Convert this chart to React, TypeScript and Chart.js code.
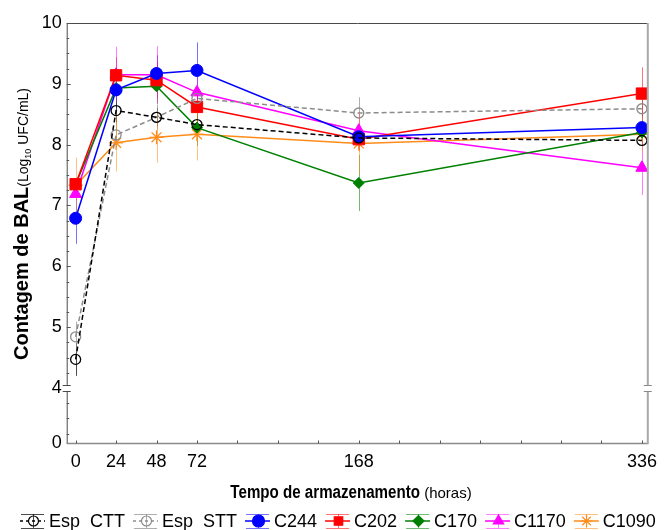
import React, { useEffect, useRef } from "react";
import { Chart, registerables } from "chart.js";
import { drawPoint } from "chart.js/helpers";

Chart.register(...registerables);

// ---------- data ----------
const hours = [0, 24, 48, 72, 168, 336];
const labeledHours = [0, 24, 48, 72, 168, 336];
const minorHourStep = 24;
const yTickValues = [4, 5, 6, 7, 8, 9, 10];
const yZeroLabel = "0";

const seriesNames = ["Esp  CTT", "Esp  STT", "C244", "C202", "C170", "C1170", "C1090"];

const espCTT = [4.47, 8.56, 8.45, 8.33, 8.11, 8.07];
const espSTT = [4.84, 8.16, 8.45, 8.76, 8.52, 8.59];
const c244 = [6.79, 8.9, 9.17, 9.22, 8.13, 8.28];
const c202 = [7.35, 9.14, 9.06, 8.62, 8.09, 8.84];
const c170 = [7.35, 8.93, 8.96, 8.28, 7.37, 8.2];
const c1170 = [7.19, 9.15, 9.15, 8.86, 8.23, 7.62];
const c1090 = [7.33, 8.03, 8.12, 8.17, 8.02, 8.17];

const espCTTErr = [0.27, 0.2, 0.15, 0.15, 0.1, 0.1];
const espSTTErr = [0.25, 0.2, 0.2, 0.2, 0.26, 0.15];
const c244Err = [0.42, 0.3, 0.3, 0.46, 0.2, 0.2];
const c202Err = [0.1, 0.3, 0.3, 0.3, 0.2, 0.43];
const c170Err = [0.1, 0.3, 0.3, 0.3, 0.46, 0.2];
const c1170Err = [0.1, 0.46, 0.47, 0.3, 0.3, 0.45];
const c1090Err = [0.46, 0.47, 0.42, 0.43, 0.5, 0.3];

const valueSets = [espCTT, espSTT, c244, c202, c170, c1170, c1090];
const errorSets = [espCTTErr, espSTTErr, c244Err, c202Err, c170Err, c1170Err, c1090Err];

// ---------- styles ----------
const colors = ["#000000", "#8c8c8c", "#0000ff", "#ff0000", "#008000", "#ff00ff", "#ff8c1a"];
const errColors = [
  "rgba(0,0,0,0.7)",
  "rgba(140,140,140,0.7)",
  "rgba(0,0,255,0.55)",
  "rgba(255,0,0,0.55)",
  "rgba(0,128,0,0.55)",
  "rgba(255,0,255,0.5)",
  "rgba(255,140,26,0.55)",
];
const dashes = [[5, 3], [5, 3], [], [], [], [], []];
const pointStyles = ["circle", "circle", "circle", "rect", "rectRot", "triangle", "star"];
const pointRadii = [5, 5, 6, 8, 5.5, 7, 7];
const pointFilled = [false, false, true, true, true, true, false];

const FONT = "'Liberation Sans', Arial, Helvetica, sans-serif";

// axis geometry (broken y axis: 0 shown below 4)
const Y_MIN = 3.087;
const Y_MAX = 10;
const X_MIN = -5.3;
const X_MAX = 339.5;

const decorPlugin = {
  id: "decor",
  beforeDatasetsDraw(chart: any) {
    const { ctx, scales } = chart;
    const x = scales.x;
    const y = scales.y;
    ctx.save();
    valueSets.forEach((vals, i) => {
      ctx.strokeStyle = errColors[i];
      ctx.lineWidth = 1;
      ctx.setLineDash([]);
      hours.forEach((h, j) => {
        const v = vals[j];
        const e = errorSets[i][j];
        const px = Math.round(x.getPixelForValue(h)) + 0.5;
        ctx.beginPath();
        ctx.moveTo(px, y.getPixelForValue(v - e));
        ctx.lineTo(px, y.getPixelForValue(v + e));
        ctx.stroke();
      });
    });
    ctx.restore();
  },
  afterDraw(chart: any) {
    const { ctx, chartArea, scales } = chart;
    const x = scales.x;
    const y = scales.y;
    const { left, right, top, bottom } = chartArea;
    const yb = y.getPixelForValue(4);
    ctx.save();
    ctx.setLineDash([]);

    // frame
    ctx.strokeStyle = "#4a4a4a";
    ctx.lineWidth = 1;
    ctx.beginPath();
    ctx.moveTo(left + 0.5, top + 0.5);
    ctx.lineTo(right, top + 0.5);
    ctx.moveTo(left + 0.5, top);
    ctx.lineTo(left + 0.5, yb - 3);
    ctx.moveTo(left + 0.5, yb + 3);
    ctx.lineTo(left + 0.5, bottom);
    ctx.stroke();

    ctx.strokeStyle = "#8a8a8a";
    ctx.lineWidth = 1.5;
    ctx.beginPath();
    ctx.moveTo(left, bottom);
    ctx.lineTo(right, bottom);
    ctx.stroke();

    ctx.strokeStyle = "#a8a8a8";
    ctx.lineWidth = 2;
    ctx.beginPath();
    ctx.moveTo(right, top);
    ctx.lineTo(right, yb - 3);
    ctx.moveTo(right, yb + 3);
    ctx.lineTo(right, bottom + 0.75);
    ctx.stroke();

    // break marks
    ctx.strokeStyle = "#4a4a4a";
    ctx.lineWidth = 1;
    ctx.beginPath();
    [yb - 3, yb + 3].forEach((yy) => {
      ctx.moveTo(left - 4, Math.round(yy) + 0.5);
      ctx.lineTo(left + 4, Math.round(yy) + 0.5);
    });
    ctx.stroke();
    ctx.strokeStyle = "#8a8a8a";
    ctx.beginPath();
    [yb - 3, yb + 3].forEach((yy) => {
      ctx.moveTo(right - 4, Math.round(yy) + 0.5);
      ctx.lineTo(right + 4, Math.round(yy) + 0.5);
    });
    ctx.stroke();

    // inward ticks
    ctx.strokeStyle = "#555";
    ctx.lineWidth = 1;
    ctx.beginPath();
    for (let h = 0; h <= 336; h += minorHourStep) {
      const px = Math.round(x.getPixelForValue(h)) + 0.5;
      ctx.moveTo(px, bottom);
      ctx.lineTo(px, bottom - 3);
    }
    for (let v = 4.25; v <= 10.001; v += 0.25) {
      const py = Math.round(y.getPixelForValue(v)) + 0.5;
      const major = Math.abs(v - Math.round(v)) < 1e-6;
      ctx.moveTo(left, py);
      ctx.lineTo(left + (major ? 4 : 2.5), py);
    }
    for (let v = 3.75; v > Y_MIN + 0.05; v -= 0.25) {
      const py = Math.round(y.getPixelForValue(v)) + 0.5;
      ctx.moveTo(left, py);
      ctx.lineTo(left + 2.5, py);
    }
    ctx.stroke();

    // x title (condensed bold + normal)
    ctx.fillStyle = "#000";
    ctx.textBaseline = "alphabetic";
    ctx.textAlign = "left";
    const boldPart = "Tempo de armazenamento";
    const normPart = " (horas)";
    const squeeze = 0.84;
    ctx.font = "bold 18px " + FONT;
    const wb = ctx.measureText(boldPart).width * squeeze;
    ctx.font = "15px " + FONT;
    const wn = ctx.measureText(normPart).width;
    const xs = 351 - (wb + wn) / 2;
    ctx.save();
    ctx.translate(xs, 498);
    ctx.scale(squeeze, 1);
    ctx.font = "bold 18px " + FONT;
    ctx.fillText(boldPart, 0, 0);
    ctx.restore();
    ctx.font = "15px " + FONT;
    ctx.fillText(normPart, xs + wb, 498);

    // y title (rotated)
    ctx.save();
    ctx.translate(28, 224);
    ctx.rotate(-Math.PI / 2);
    const p1 = "Contagem de BAL";
    const p2 = "(Log";
    const p3 = "10";
    const p4 = " UFC/mL)";
    ctx.font = "bold 20px " + FONT;
    const w1 = ctx.measureText(p1).width;
    ctx.font = "14px " + FONT;
    const w2 = ctx.measureText(p2).width;
    const w4 = ctx.measureText(p4).width;
    ctx.font = "9px " + FONT;
    const w3 = ctx.measureText(p3).width;
    let tx = -(w1 + w2 + w3 + w4) / 2;
    ctx.font = "bold 20px " + FONT;
    ctx.fillText(p1, tx, 0);
    tx += w1;
    ctx.font = "14px " + FONT;
    ctx.fillText(p2, tx, 0);
    tx += w2;
    ctx.font = "9px " + FONT;
    ctx.fillText(p3, tx, 3);
    tx += w3;
    ctx.font = "14px " + FONT;
    ctx.fillText(p4, tx, 0);
    ctx.restore();

    // legend
    let cx = 20;
    const cy = 521;
    ctx.font = "18px " + FONT;
    ctx.textBaseline = "middle";
    seriesNames.forEach((name, i) => {
      ctx.strokeStyle = colors[i];
      ctx.lineWidth = 1.5;
      ctx.setLineDash(dashes[i].length ? [3, 3] : []);
      ctx.beginPath();
      ctx.moveTo(cx, cy);
      ctx.lineTo(cx + 25, cy);
      ctx.stroke();
      ctx.setLineDash([]);
      ctx.strokeStyle = errColors[i];
      ctx.lineWidth = 1;
      ctx.beginPath();
      const mx = Math.round(cx + 12.5) + 0.5;
      ctx.moveTo(mx, cy - 7);
      ctx.lineTo(mx, cy + 7);
      ctx.moveTo(cx + 1, Math.round(cy - 7) + 0.5);
      ctx.lineTo(cx + 24, Math.round(cy - 7) + 0.5);
      ctx.moveTo(cx + 1, Math.round(cy + 7) + 0.5);
      ctx.lineTo(cx + 24, Math.round(cy + 7) + 0.5);
      ctx.stroke();
      ctx.fillStyle = pointFilled[i] ? colors[i] : "rgba(255,255,255,0)";
      ctx.strokeStyle = colors[i];
      ctx.lineWidth = 1.2;
      drawPoint(
        ctx,
        { pointStyle: pointStyles[i], radius: Math.min(pointRadii[i], 6), rotation: 0, borderWidth: 1.2 } as any,
        mx,
        cy
      );
      ctx.fillStyle = "#000";
      ctx.fillText(name, cx + 29, cy + 1);
      cx += 29 + ctx.measureText(name).width + 8;
    });

    ctx.restore();
  },
};

export default function App() {
  const ref = useRef<HTMLCanvasElement | null>(null);

  useEffect(() => {
    document.body.style.margin = "0";
    const canvas = ref.current;
    if (!canvas) return;
    const datasets = valueSets.map((vals, i) => ({
      label: seriesNames[i],
      data: hours.map((h, j) => ({ x: h, y: vals[j] })),
      borderColor: colors[i],
      backgroundColor: colors[i],
      borderWidth: 1.5,
      borderDash: dashes[i],
      pointStyle: pointStyles[i],
      pointRadius: pointRadii[i],
      pointBackgroundColor: pointFilled[i] ? colors[i] : "rgba(255,255,255,0)",
      pointBorderColor: colors[i],
      pointBorderWidth: pointFilled[i] ? 1 : 1.3,
      tension: 0,
      fill: false,
    }));
    const chart = new Chart(canvas, {
      type: "line",
      data: { datasets },
      plugins: [decorPlugin],
      options: {
        responsive: false,
        animation: false,
        devicePixelRatio: 1,
        layout: { padding: { left: 0, right: 8.3, top: 23, bottom: 0 } },
        plugins: { legend: { display: false }, tooltip: { enabled: false }, title: { display: false } },
        scales: {
          x: {
            type: "linear",
            min: X_MIN,
            max: X_MAX,
            grid: { display: false, drawTicks: false },
            border: { display: false },
            afterBuildTicks: (s: any) => {
              s.ticks = labeledHours.map((v) => ({ value: v }));
            },
            afterFit: (s: any) => {
              s.height = 86.5;
            },
            ticks: {
              autoSkip: false,
              maxRotation: 0,
              padding: 8,
              color: "#000",
              font: { family: FONT, size: 18 },
              callback: (v: any) => String(v),
            },
          },
          y: {
            type: "linear",
            min: Y_MIN,
            max: Y_MAX,
            grid: { display: false, drawTicks: false },
            border: { display: false },
            afterBuildTicks: (s: any) => {
              s.ticks = [{ value: Y_MIN }, ...yTickValues.map((v) => ({ value: v }))];
            },
            afterFit: (s: any) => {
              s.width = 66.7;
            },
            ticks: {
              autoSkip: false,
              padding: 5,
              color: "#000",
              font: { family: FONT, size: 18 },
              callback: (v: any) => (Math.abs(v - Y_MIN) < 1e-6 ? yZeroLabel : String(v)),
            },
          },
        },
      } as any,
    });
    return () => chart.destroy();
  }, []);

  return (
    <div style={{ width: 665, height: 530, background: "#fff" }}>
      <canvas ref={ref} width={665} height={530} style={{ display: "block" }} />
    </div>
  );
}
